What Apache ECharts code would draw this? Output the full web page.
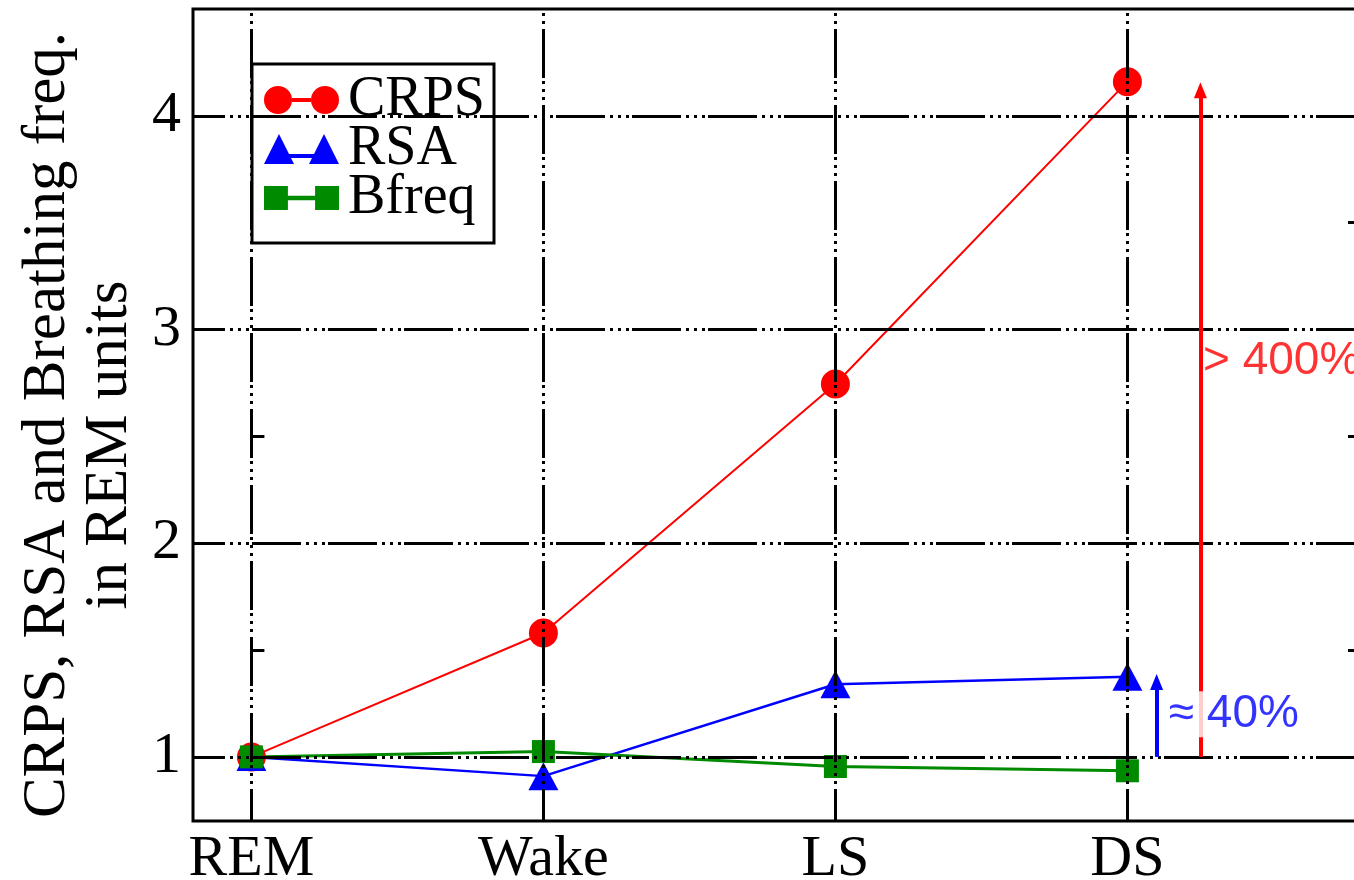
<!DOCTYPE html>
<html>
<head>
<meta charset="utf-8">
<title>CRPS, RSA and Breathing frequency by sleep stage</title>
<script src="https://cdn.jsdelivr.net/npm/echarts@6/dist/echarts.min.js"></script>
<style>
  html, body { margin: 0; padding: 0; background: #fff; }
  #chart { width: 1354px; height: 880px; }
</style>
</head>
<body>
<div id="chart"></div>
<script>
// Sleep stages on the x axis (positions 0..3)
const categories = ['REM', 'Wake', 'LS', 'DS'];

// Values normalised to REM
const crps  = [1.0, 1.58, 2.745, 4.16];
const rsa   = [1.0, 0.91, 1.34, 1.375];
const bfreq = [1.0, 1.025, 0.955, 0.935];

// Axis ticks
const yMajorTicks = [1, 2, 3, 4];
const yMinorTicks = [1.5, 2.5, 3.5];
const xTicks = [0, 1, 2, 3];

// Change arrows to the right of DS: x position, base, tip
const arrowX    = [3.25, 3.1];
const arrowBase = [1, 1];
const arrowTip  = [4.12, 1.35];

// Arrow annotations: text and anchor (left edge, vertical centre)
const noteText = ['> 400%', '\u2248 40%'];
const noteX    = [3.252, 3.135];
const noteY    = [2.85, 1.2];

const RED = '#ff0000', BLUE = '#0000ff', GREEN = '#008a00';
const SERIF = '"Liberation Serif", "DejaVu Serif", serif';
const SANS = '"Liberation Sans", Arial, sans-serif';

const toXY = arr => arr.map((v, i) => [i, v]);

// Grid line dash: long dash followed by three dots
const gridDash = [49, 5, 3, 5, 3, 5, 3, 3];

// Legend icons: marker - bar - marker
const iconCircle = 'path://M0,15A14,14 0 1,0 28,15A14,14 0 1,0 0,15Z' +
                   'M47,15A14,14 0 1,0 75,15A14,14 0 1,0 47,15Z' +
                   'M28,13L47,13L47,17L28,17Z';
const iconTriangle = 'path://M0,30L15,0L30,30Z M45,30L60,0L75,30Z M20,20L55,20L55,24L20,24Z';
const iconSquare = 'path://M3,4L25,4L25,26L3,26Z M50,4L72,4L72,26L50,26Z M25,13L50,13L50,17L25,17Z';

const chart = echarts.init(document.getElementById('chart'), null, { renderer: 'canvas' });

const nameFont = { fontFamily: SERIF, fontSize: 61, color: '#000', lineHeight: 62 };

const option = {
  animation: false,
  backgroundColor: '#fff',
  grid: {
    left: 193, top: 9, right: -7, bottom: 59,
    outerBoundsMode: 'none', containLabel: false,
    show: true, borderColor: '#000', borderWidth: 3, backgroundColor: 'transparent'
  },
  legend: {
    orient: 'vertical',
    left: 252, top: 64,
    padding: [8, 9, 17, 12],
    itemWidth: 75, itemHeight: 30, itemGap: -7,
    backgroundColor: '#fff', borderColor: '#000', borderWidth: 3,
    textStyle: { fontFamily: SERIF, fontSize: 56, color: '#000', padding: [0, 0, 0, 4] },
    data: [
      { name: 'CRPS',  icon: iconCircle },
      { name: 'RSA',   icon: iconTriangle },
      { name: 'Bfreq', icon: iconSquare }
    ]
  },
  xAxis: {
    type: 'value', min: -0.2, max: 3.8,
    axisLine: { show: false },
    splitLine: { show: false },
    axisTick: { show: false },
    axisLabel: {
      customValues: xTicks,
      formatter: v => categories[Math.round(v)] || '',
      fontFamily: SERIF, fontSize: 58, color: '#000', margin: 10
    }
  },
  yAxis: [
    {
      type: 'value', min: 0.7, max: 4.5, position: 'left',
      name: '{a|CRPS, RSA and Breathing freq.}\n{b|in REM units}',
      nameLocation: 'middle', nameRotate: 90, nameGap: 52,
      nameTextStyle: Object.assign({}, nameFont, {
        padding: [0, 20, 0, 0],
        rich: {
          a: Object.assign({}, nameFont),
          b: Object.assign({}, nameFont, { padding: [0, 40, 0, 0] })
        }
      }),
      axisLine: { show: false },
      splitLine: { show: false },
      axisTick: { show: true, inside: true, length: 13, customValues: yMinorTicks,
                  lineStyle: { color: '#000', width: 3 } },
      axisLabel: { customValues: yMajorTicks, fontFamily: SERIF, fontSize: 58, color: '#000', margin: 12 }
    },
    {
      type: 'value', min: 0.7, max: 4.5, position: 'right',
      axisLine: { show: false },
      splitLine: { show: false },
      axisLabel: { show: false },
      axisTick: { show: true, inside: true, length: 13, customValues: yMinorTicks,
                  lineStyle: { color: '#000', width: 3 } }
    }
  ],
  series: [
    {
      // grid lines at the major ticks
      name: 'grid', type: 'line', data: [], z: 1, silent: true,
      markLine: {
        silent: true, symbol: 'none', label: { show: false },
        lineStyle: { color: '#000', width: 3, type: gridDash, dashOffset: 17 },
        data: yMajorTicks.map(v => ({ yAxis: v }))
          .concat(xTicks.map(v => ({ xAxis: v })))
      }
    },
    {
      name: 'CRPS', type: 'line', data: toXY(crps), z: 3,
      symbol: 'circle', symbolSize: 29,
      itemStyle: { color: RED },
      lineStyle: { color: RED, width: 2 }
    },
    {
      name: 'RSA', type: 'line', data: toXY(rsa), z: 3,
      symbol: 'triangle', symbolSize: [30, 28],
      itemStyle: { color: BLUE },
      lineStyle: { color: BLUE, width: 2.5 }
    },
    {
      name: 'Bfreq', type: 'line', data: toXY(bfreq), z: 3,
      symbol: 'rect', symbolSize: 23,
      itemStyle: { color: GREEN },
      lineStyle: { color: GREEN, width: 3 }
    },
    {
      // change arrows
      name: 'arrows', type: 'line', data: [], z: 4, silent: true,
      markLine: {
        silent: true, symbol: ['none', 'triangle'], symbolSize: [13, 16],
        label: { show: false },
        data: arrowX.map((x, i) => [
          { coord: [x, arrowBase[i]], lineStyle: { color: i === 0 ? RED : BLUE, width: 4, type: 'solid' } },
          { coord: [x, arrowTip[i]] }
        ])
      }
    },
    {
      // arrow annotations
      name: 'notes', type: 'scatter', z: 5, silent: true,
      symbolSize: 0,
      data: noteText.map((t, i) => ({
        value: [noteX[i], noteY[i]],
        label: {
          show: true, position: 'right', distance: 0,
          formatter: t,
          fontFamily: SANS, fontSize: 46,
          color: i === 0 ? RED : BLUE,
          backgroundColor: i === 0 ? 'transparent' : '#fff',
          padding: [0, 2, 0, 2]
        }
      }))
    }
  ]
};

chart.setOption(option);
</script>
</body>
</html>
